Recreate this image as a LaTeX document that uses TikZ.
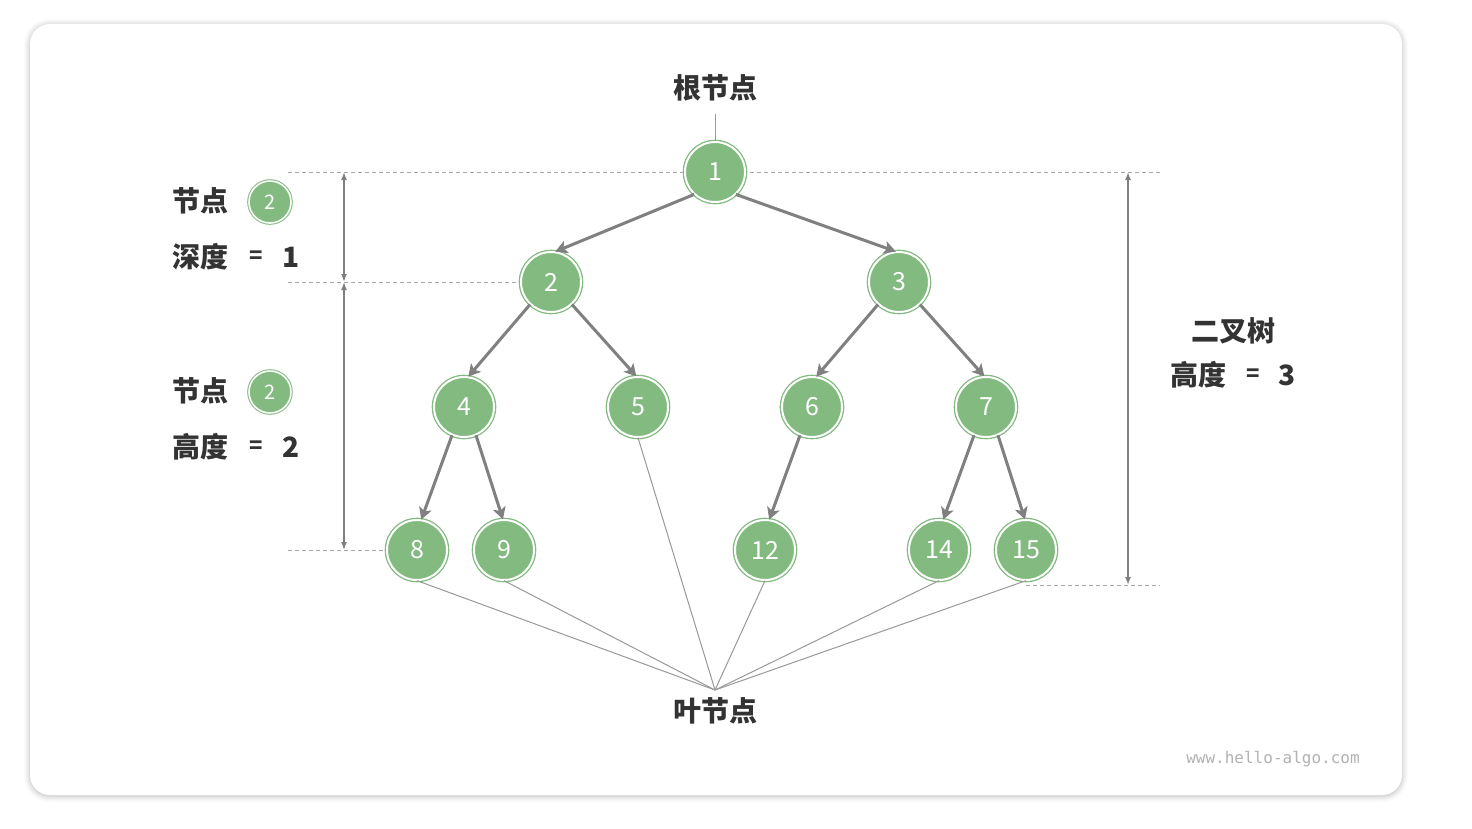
\documentclass[tikz,border=0pt]{standalone}
\usepackage{fontspec}
\newfontfamily\cjk{Noto Sans CJK SC}
\newfontfamily\wmfont{DejaVu Sans Mono}
\usetikzlibrary{arrows.meta,shadows.blur}
\definecolor{nodegreen}{HTML}{82BA80}
\definecolor{edgegray}{HTML}{808080}
\definecolor{guidegray}{HTML}{A8A8A8}
\definecolor{textgray}{HTML}{333333}
\tikzset{
  treenode/.style={circle, fill=nodegreen, draw=nodegreen, double=white,
    double distance=2pt, line width=1.3pt, minimum size=60pt, inner sep=0pt,
    text=white, font=\cjk\fontsize{25}{25}\selectfont},
  smallnode/.style={treenode, minimum size=42pt, line width=1pt,
    double distance=1.6pt, font=\cjk\fontsize{20}{20}\selectfont},
  lbl/.style={text=textgray, inner sep=0pt, font=\cjk\bfseries\fontsize{28}{28}\selectfont},
  eqlbl/.style={lbl, font=\cjk\bfseries\fontsize{22}{22}\selectfont},
  edge/.style={draw=edgegray, line width=3pt, -{Stealth[length=12pt,width=13pt,inset=3pt]}},
  guide/.style={draw=guidegray, line width=1pt, dash pattern=on 4pt off 3pt},
  dim/.style={draw=edgegray, line width=1.5pt, {Latex[length=8pt,width=6pt]}-{Latex[length=8pt,width=6pt]}},
  pointer/.style={draw=edgegray!80, line width=1pt}
}
\begin{document}
\begin{tikzpicture}[x=1pt, y=-1pt]
\useasboundingbox (0,0) rectangle (1472,828);
\fill[white, rounded corners=20pt, blur shadow={shadow blur radius=6pt, shadow xshift=0pt, shadow yshift=-1pt, shadow opacity=30}] (30,24) rectangle (1402,795);
\draw[guide] (288,172) -- (1160,172);
\draw[guide] (288,282) -- (520,282);
\draw[guide] (288,550) -- (385,550);
\draw[guide] (1026,585) -- (1160,585);
\node[treenode](n1) at (715,172) {1};
\node[treenode](n2) at (551,282) {2};
\node[treenode](n3) at (899,282) {3};
\node[treenode](n4) at (464,407) {4};
\node[treenode](n5) at (638,407) {5};
\node[treenode](n6) at (812,407) {6};
\node[treenode](n7) at (986,407) {7};
\node[treenode](n8) at (417,550) {8};
\node[treenode](n9) at (504,550) {9};
\node[treenode](n12) at (765,550) {12};
\node[treenode](n14) at (939,550) {14};
\node[treenode](n15) at (1026,550) {15};
\node[lbl](rootlbl) at (715,88) {根节点};
\node[lbl](leaflbl) at (715,711) {叶节点};
\coordinate(leafpt) at (715,690);
\coordinate(d1top) at (344,172);
\coordinate(d1bot) at (344,282);
\coordinate(d2bot) at (344,550);
\coordinate(htop) at (1128,172);
\coordinate(hbot) at (1128,585);
\draw[edge] (n1.-133) -- (n2.82);
\draw[edge] (n1.-47) -- (n3.96);
\draw[edge] (n2.-133) -- (n4.82);
\draw[edge] (n2.-47) -- (n5.93);
\draw[edge] (n3.-133) -- (n6.82);
\draw[edge] (n3.-47) -- (n7.93);
\draw[edge] (n4.-113) -- (n8.82);
\draw[edge] (n4.-67) -- (n9.92);
\draw[edge] (n6.-113) -- (n12.82);
\draw[edge] (n7.-113) -- (n14.82);
\draw[edge] (n7.-67) -- (n15.92);
\draw[pointer] (rootlbl.south) ++(0,12) -- (n1.north);
\draw[pointer] (n8.south) -- (leafpt);
\draw[pointer] (n9.south) -- (leafpt);
\draw[pointer] (n5.south) -- (leafpt);
\draw[pointer] (n12.south) -- (leafpt);
\draw[pointer] (n14.south) -- (leafpt);
\draw[pointer] (n15.south) -- (leafpt);
\draw[dim] (d1top) -- (d1bot);
\draw[dim] (d1bot) -- (d2bot);
\draw[dim] (htop) -- (hbot);
\node[lbl](dnode) at (200,201) {节点};
\node[smallnode](dcirc) at (270,202) {2};
\node[lbl](dword) at (200,257) {深度};
\node[eqlbl](deq) at (256,257) {=};
\node[lbl](dval) at (291,257) {1};
\node[lbl](hnode) at (200,391) {节点};
\node[smallnode](hcirc) at (270,392) {2};
\node[lbl](hword) at (200,447) {高度};
\node[eqlbl](heq) at (256,447) {=};
\node[lbl](hval) at (291,447) {2};
\node[lbl](tname) at (1233,331) {二叉树};
\node[lbl](tword) at (1198,375) {高度};
\node[eqlbl](teq) at (1253,375) {=};
\node[lbl](tval) at (1287,375) {3};
\node[text=black!30, font=\wmfont\fontsize{16}{16}\selectfont](wmark) at (1273,759) {www.hello-algo.com};
\end{tikzpicture}
\end{document}
